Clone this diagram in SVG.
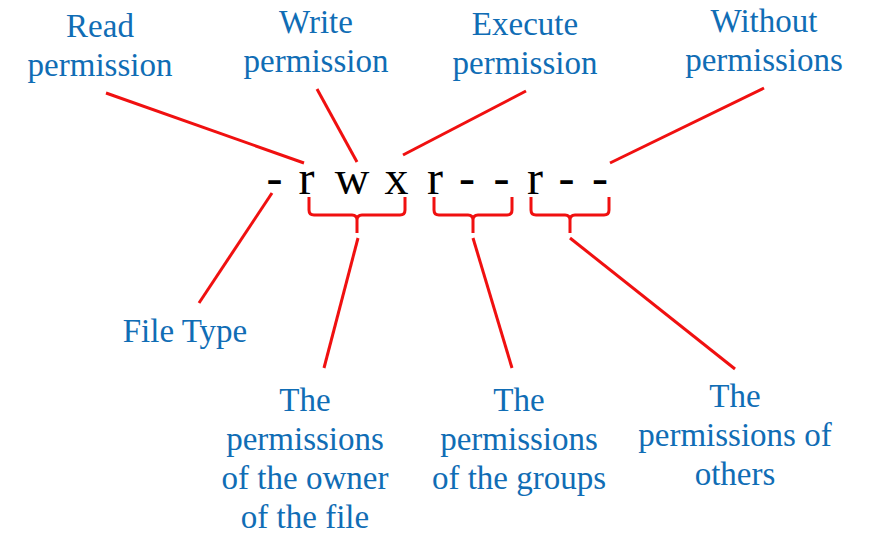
<svg xmlns="http://www.w3.org/2000/svg" width="887" height="539" viewBox="0 0 887 539">
<style>
.lbl{font-family:"Liberation Serif","Times New Roman",serif;font-size:33px;fill:#106DB5;text-anchor:middle}
.ch{font-family:"Liberation Serif","Times New Roman",serif;font-size:48px;fill:#000;text-anchor:middle}
.ln{stroke:#F01010;stroke-width:3;fill:none;stroke-linecap:butt;stroke-linejoin:round}
</style>
<rect width="887" height="539" fill="#fff"/>
<g id="perm-string">
<text class="ch" x="274.5" y="194">-</text>
<text class="ch" x="306.5" y="194">r</text>
<text class="ch" x="352" y="194">w</text>
<text class="ch" x="396.5" y="194">x</text>
<text class="ch" x="435" y="194">r</text>
<text class="ch" x="467" y="194">-</text>
<text class="ch" x="501.5" y="194">-</text>
<text class="ch" x="535" y="194">r</text>
<text class="ch" x="566.5" y="194">-</text>
<text class="ch" x="600" y="194">-</text>
</g>
<g id="read"><text class="lbl" x="100" y="37">Read</text><text class="lbl" x="100" y="76">permission</text></g>
<g id="write"><text class="lbl" x="316" y="33">Write</text><text class="lbl" x="316" y="72">permission</text></g>
<g id="execute"><text class="lbl" x="525" y="35">Execute</text><text class="lbl" x="525" y="74">permission</text></g>
<g id="without"><text class="lbl" x="764" y="32">Without</text><text class="lbl" x="764" y="71">permissions</text></g>
<g id="filetype"><text class="lbl" x="185" y="342">File Type</text></g>
<g id="owner"><text class="lbl" x="305" y="411">The</text><text class="lbl" x="305" y="450">permissions</text><text class="lbl" x="305" y="489">of the owner</text><text class="lbl" x="305" y="528">of the file</text></g>
<g id="groups"><text class="lbl" x="519" y="411">The</text><text class="lbl" x="519" y="450">permissions</text><text class="lbl" x="519" y="489">of the groups</text></g>
<g id="others"><text class="lbl" x="735" y="407">The</text><text class="lbl" x="735" y="446">permissions of</text><text class="lbl" x="735" y="485">others</text></g>
<g id="connectors">
<line class="ln" x1="106" y1="93" x2="304" y2="163"/>
<line class="ln" x1="317" y1="89" x2="357" y2="162"/>
<line class="ln" x1="526" y1="91" x2="403" y2="155"/>
<line class="ln" x1="764" y1="88" x2="610" y2="163"/>
<line class="ln" x1="272" y1="193" x2="199" y2="303"/>
<line class="ln" x1="358" y1="238" x2="324" y2="368"/>
<line class="ln" x1="473" y1="238" x2="512" y2="368"/>
<line class="ln" x1="570" y1="238" x2="735" y2="369"/>
<path class="ln" d="M309,197 V210 Q309,215 314,215 H352 Q357,215 357,220 V233 M357,220 Q357,215 362,215 H400 Q405,215 405,210 V197"/>
<path class="ln" d="M434,197 V210 Q434,215 439,215 H468 Q473,215 473,220 V233 M473,220 Q473,215 478,215 H507 Q512,215 512,210 V197"/>
<path class="ln" d="M531,197 V210 Q531,215 536,215 H565 Q570,215 570,220 V233 M570,220 Q570,215 575,215 H604 Q609,215 609,210 V197"/>
</g>
</svg>
